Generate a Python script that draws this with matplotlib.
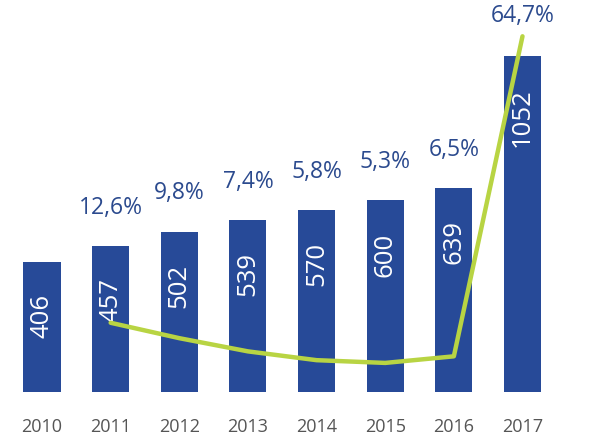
import matplotlib.pyplot as plt
import numpy as np

plt.rcParams['font.family'] = ['Open Sans', 'DejaVu Sans']

years = ['2010', '2011', '2012', '2013', '2014', '2015', '2016', '2017']
values = [406, 457, 502, 539, 570, 600, 639, 1052]
growth = [None, 12.6, 9.8, 7.4, 5.8, 5.3, 6.5, 64.7]
growth_labels = ['', '12,6%', '9,8%', '7,4%', '5,8%', '5,3%', '6,5%', '64,7%']

bar_color = '#274a98'
line_color = '#b8d443'
pct_color = '#2b4a8e'
year_color = '#555555'

fig = plt.figure(figsize=(5.98, 4.41), dpi=100)
ax = fig.add_axes([0, 0, 1, 1])
x = np.arange(len(years))

ax.bar(x, values, width=0.54, color=bar_color, zorder=1)

# value labels inside bars, rotated
for i, v in enumerate(values):
    ax.annotate(str(v), (x[i], v), xytext=(0, -23), textcoords='offset points',
                rotation=90, ha='center', va='top', color='white', fontsize=18.5,
                zorder=3)

# growth labels above bars
for i, v in enumerate(values):
    if growth_labels[i]:
        off = 28.5 if i == len(values) - 1 else 27.5
        ax.annotate(growth_labels[i], (x[i], v), xytext=(0, off),
                    textcoords='offset points', ha='center', va='center',
                    color=pct_color, fontsize=16.5)

# year labels under the baseline
for i, yr in enumerate(years):
    ax.annotate(yr, (x[i], 0), xytext=(0, -18.5), textcoords='offset points',
                ha='center', va='top', color=year_color, fontsize=13)

ax.set_xlim(-0.612, 8.10)
ax.set_ylim(-153.4, 1227)
ax.set_xticks([])
ax.set_yticks([])
for s in ax.spines.values():
    s.set_visible(False)

# growth line on second axis
ax2 = ax.twinx()
ax2.set_ylim(-8.9, 71.3)
gx = [x[i] for i in range(len(growth)) if growth[i] is not None]
gy = [g for g in growth if g is not None]
ax2.plot(gx, gy, color=line_color, linewidth=3.2, solid_capstyle='round',
         solid_joinstyle='round', zorder=2)
ax2.set_yticks([])
for s in ax2.spines.values():
    s.set_visible(False)

fig.savefig('out.png', dpi=100)
